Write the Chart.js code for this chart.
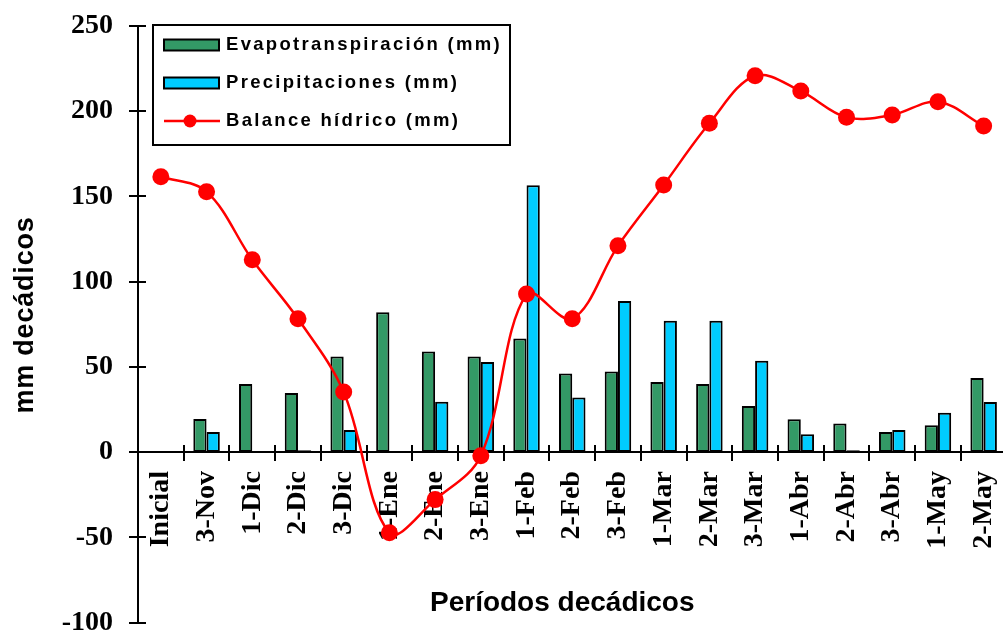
<!DOCTYPE html>
<html><head><meta charset="utf-8">
<script src="https://cdn.jsdelivr.net/npm/chart.js@4/dist/chart.umd.min.js"></script>
<style>html,body{margin:0;padding:0;overflow:hidden;background:#fff;width:1003px;height:633px}canvas{display:block}</style>
</head><body><canvas id="c" width="1015" height="633"></canvas>
<script>
const categories = ['Inicial','3-Nov','1-Dic','2-Dic','3-Dic','1-Ene','2-Ene','3-Ene','1-Feb','2-Feb','3-Feb','1-Mar','2-Mar','3-Mar','1-Abr','2-Abr','3-Abr','1-May','2-May'];
const evapotranspiracion = [null,19.4,39.9,34.6,56.1,82.1,59,56.1,66.7,46.1,47.3,41.1,39.9,27,19.2,16.8,11.8,15.7,43.4];
const precipitaciones = [null,11.8,0,1,13,0,29.5,52.8,156.6,32,88.6,77,77,53.6,10.4,1,13,23.1,29.4];
const balance = [161.6,152.8,112.8,78.2,35.2,-47.4,-27.9,-2.1,92.7,78.2,121,156.7,192.9,220.8,211.8,196.4,197.8,205.6,191.3];
const yTicks = [-100,-50,0,50,100,150,200,250];
const seriesLabels = ['Evapotranspiración (mm)','Precipitaciones (mm)','Balance hídrico (mm)'];
const axisTitles = {x:'Períodos decádicos', y:'mm decádicos'};

const GREEN = '#339966', BLUE = '#00CCFF', RED = '#FF0000';
const serif = '"Liberation Serif", "Times New Roman", serif';
const sans = '"Liberation Sans", Arial, sans-serif';

const extras = {
  id:'extras',
  afterDraw(chart){
    const ctx = chart.ctx, xs = chart.scales.x, ys = chart.scales.y;
    const y0 = ys.getPixelForValue(0);
    ctx.save();
    ctx.strokeStyle = '#000'; ctx.lineWidth = 2;
    yTicks.forEach(v=>{
      const py = Math.round(ys.getPixelForValue(v));
      ctx.beginPath(); ctx.moveTo(xs.left-9, py); ctx.lineTo(xs.left+8, py); ctx.stroke();
    });
    for(let i=0;i<categories.length-1;i++){
      const px = Math.round((xs.getPixelForValue(i)+xs.getPixelForValue(i+1))/2);
      ctx.beginPath(); ctx.moveTo(px, y0-7); ctx.lineTo(px, y0+9); ctx.stroke();
    }
    ctx.fillStyle = '#000';
    ctx.font = 'bold 28px '+sans;
    ctx.textAlign = 'center'; ctx.textBaseline = 'middle';
    ctx.fillText(axisTitles.x, (chart.chartArea.left+chart.chartArea.right)/2 - 10, 603);
    ctx.save();
    ctx.translate(33, 315); ctx.rotate(-Math.PI/2);
    ctx.font = 'bold 27px '+sans;
    ctx.letterSpacing = '0.8px';
    ctx.textBaseline = 'alphabetic';
    ctx.fillText(axisTitles.y, 0, 0);
    ctx.restore();
    // legend
    ctx.fillStyle = '#fff';
    ctx.fillRect(153, 25, 357, 120);
    ctx.lineWidth = 2; ctx.strokeStyle = '#000';
    ctx.strokeRect(153, 25, 357, 120);
    const rows = [45, 83, 121];
    const ds = chart.data.datasets;
    ds.forEach((d,i)=>{
      const ry = rows[i];
      if (d.type === 'line') {
        ctx.strokeStyle = d.borderColor; ctx.lineWidth = 2.5;
        ctx.beginPath(); ctx.moveTo(164, ry); ctx.lineTo(220, ry); ctx.stroke();
        ctx.fillStyle = d.pointBackgroundColor;
        ctx.beginPath(); ctx.arc(190, ry, 6.5, 0, Math.PI*2); ctx.fill();
      } else {
        ctx.fillStyle = d.backgroundColor;
        ctx.fillRect(164, ry-5.5, 55, 11);
        ctx.strokeStyle = '#000'; ctx.lineWidth = 2;
        ctx.strokeRect(164, ry-5.5, 55, 11);
      }
      ctx.fillStyle = '#000';
      ctx.font = 'bold 18.5px '+sans;
      ctx.letterSpacing = '2.3px';
      ctx.textAlign = 'left'; ctx.textBaseline = 'middle';
      ctx.fillText(d.label, 226, ry);
    });
    ctx.restore();
  }
};

new Chart(document.getElementById('c'), {
  data: {
    labels: categories,
    datasets: [
      {type:'bar', label: seriesLabels[0], data: evapotranspiracion, backgroundColor: GREEN, borderColor:'#000', borderWidth:2, borderSkipped:false, order:1},
      {type:'bar', label: seriesLabels[1], data: precipitaciones, backgroundColor: BLUE, borderColor:'#000', borderWidth:2, borderSkipped:false, order:2},
      {type:'line', label: seriesLabels[2], data: balance, borderColor: RED, borderWidth:2.5, pointRadius:8.5, pointBackgroundColor: RED, pointBorderWidth:0, pointBorderColor: RED, tension:0.35, fill:false, order:0, clip:false}
    ]
  },
  options: {
    responsive:false, animation:false,
    layout:{padding:{left:0,right:3,top:26,bottom:10.5}},
    datasets:{bar:{categoryPercentage:0.58, barPercentage:1.0}},
    plugins:{legend:{display:false}, tooltip:{enabled:false}},
    scales:{
      x:{type:'category', position:{y:0}, offset:true,
        grid:{display:false, drawTicks:false},
        border:{display:true, color:'#000', width:2},
        ticks:{autoSkip:false, maxRotation:90, minRotation:90, padding:19, color:'#000', font:{family:serif, size:28, weight:'bold'}},
        afterFit(s){ s.paddingLeft=0; s.paddingRight=0; }
      },
      y:{type:'linear', min:-100, max:250,
        afterBuildTicks(s){ s.ticks = yTicks.map(v=>({value:v})); },
        grid:{display:false, drawTicks:false},
        border:{display:true, color:'#000', width:2},
        ticks:{padding:25, color:'#000', font:{family:serif, size:28, weight:'bold'}},
        afterFit(s){ s.width=138; s.paddingTop=0; s.paddingBottom=0; }
      }
    }
  },
  plugins:[extras]
});
</script>
</body></html>
